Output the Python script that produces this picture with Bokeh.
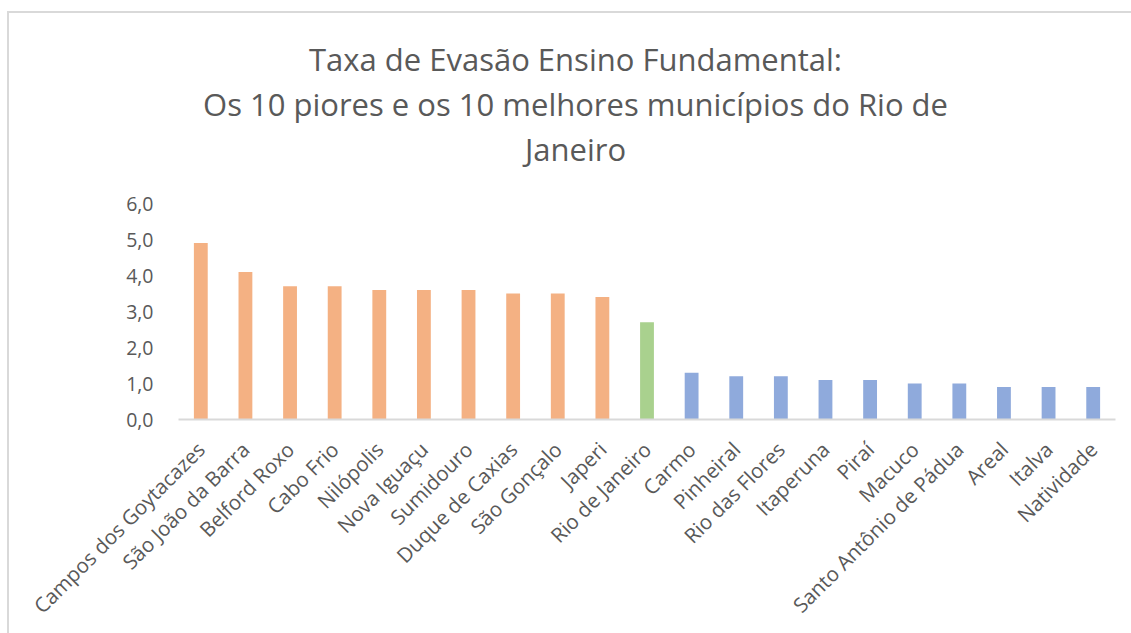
from bokeh.plotting import figure
from bokeh.models import ColumnDataSource, Range1d, Label, CustomJSTickFormatter, FixedTicker
from bokeh.embed import file_html
from bokeh.resources import INLINE
import math

municipios = ["Campos dos Goytacazes", "São João da Barra", "Belford Roxo", "Cabo Frio",
              "Nilópolis", "Nova Iguaçu", "Sumidouro", "Duque de Caxias", "São Gonçalo",
              "Japeri", "Rio de Janeiro", "Carmo", "Pinheiral", "Rio das Flores", "Itaperuna",
              "Piraí", "Macuco", "Santo Antônio de Pádua", "Areal", "Italva", "Natividade"]
taxas = [4.9, 4.1, 3.7, 3.7, 3.6, 3.6, 3.6, 3.5, 3.5, 3.4, 2.7,
         1.3, 1.2, 1.2, 1.1, 1.1, 1.0, 1.0, 0.9, 0.9, 0.9]
grupos = ["piores"] * 10 + ["capital"] + ["melhores"] * 10
cores_grupo = {"piores": "#F4B183", "capital": "#A9D18E", "melhores": "#8FAADC"}
titulo = ["Taxa de Evasão Ensino Fundamental:",
          "Os 10 piores e os 10 melhores municípios do Rio de",
          "Janeiro"]
y_ticks = [0, 1, 2, 3, 4, 5, 6]

FONT = "Open Sans"
GRAY = "#595959"

W, H = 1131, 633
BORDER_L, BORDER_R, BORDER_T, BORDER_B = 178, 16, 12, 214
frame_h = H - BORDER_T - BORDER_B          # frame also hosts the title area
px_per_unit = 36
y_top = frame_h / px_per_unit

source = ColumnDataSource(dict(
    municipio=municipios,
    taxa=taxas,
    cor=[cores_grupo[g] for g in grupos],
))

p = figure(x_range=municipios, y_range=Range1d(0, y_top),
           width=W, height=H, output_backend="svg", toolbar_location=None,
           min_border_left=BORDER_L, min_border_right=BORDER_R,
           min_border_top=BORDER_T, min_border_bottom=BORDER_B)
p.styles = {
    "background": "linear-gradient(#d9d9d9,#d9d9d9) 8px 11px / 100% 2px no-repeat, "
                  "linear-gradient(#d9d9d9,#d9d9d9) 7px 11px / 2px 100% no-repeat, white",
}

p.vbar(x="municipio", top="taxa", width=0.31, color="cor", line_color=None, source=source)

p.outline_line_color = None
p.background_fill_color = None
p.border_fill_color = None
p.xgrid.grid_line_color = None
p.ygrid.grid_line_color = None

p.yaxis.ticker = FixedTicker(ticks=y_ticks)
p.yaxis.formatter = CustomJSTickFormatter(code="return tick.toFixed(1).replace('.', ',');")
p.yaxis.axis_line_color = None
p.yaxis.major_tick_line_color = None
p.yaxis.minor_tick_line_color = None
p.yaxis.major_label_text_font = FONT
p.yaxis.major_label_text_font_size = "19.5px"
p.yaxis.major_label_text_color = GRAY
p.yaxis.major_label_standoff = 19

p.xaxis.axis_line_color = "#d9d9d9"
p.xaxis.axis_line_width = 2
p.xaxis.major_tick_line_color = None
p.xaxis.minor_tick_line_color = None
p.xaxis.major_label_text_font = FONT
p.xaxis.major_label_text_font_size = "20.5px"
p.xaxis.major_label_text_color = GRAY
p.xaxis.major_label_orientation = math.pi / 4
p.xaxis.major_label_standoff = 20
p.x_range.range_padding = 0

# title lines, positioned in screen pixels from the frame's lower-left corner
ys = [361, 316, 271]
for t, yy in zip(titulo, ys):
    p.add_layout(Label(x=397, y=yy, x_units="screen", y_units="screen", text=t,
                       text_align="center", text_baseline="alphabetic",
                       text_font=FONT, text_font_size="31px", text_color=GRAY))

open("out.html", "w").write(file_html(p, INLINE))
